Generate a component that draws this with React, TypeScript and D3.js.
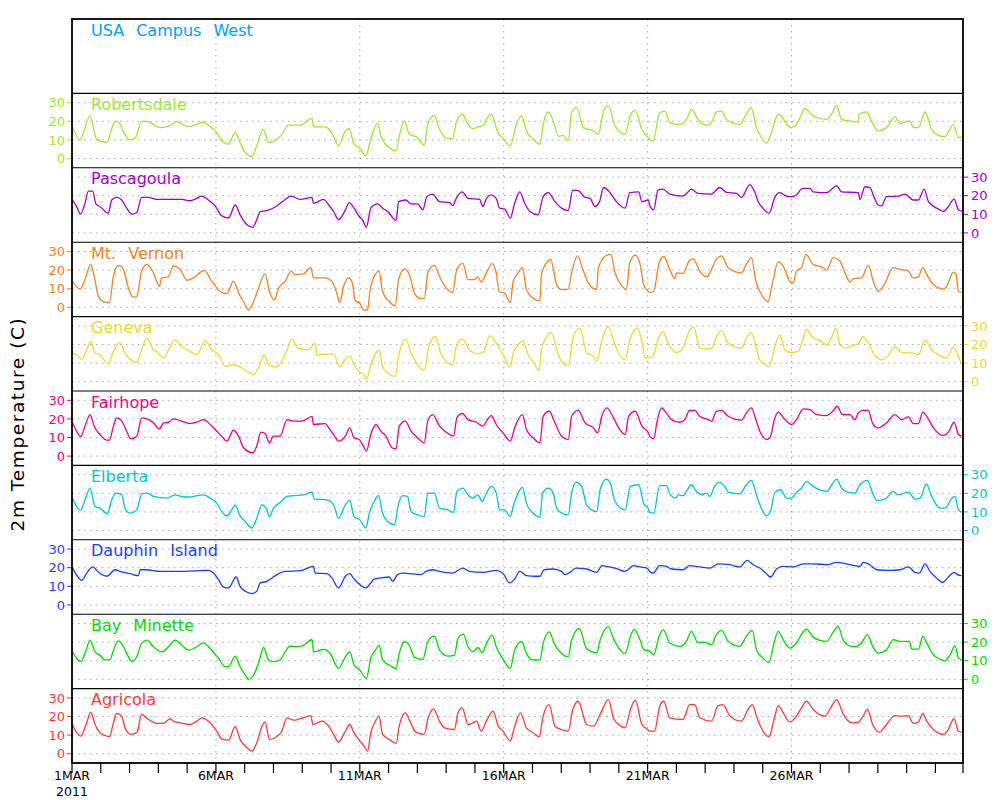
import React, { useEffect, useRef } from 'react';
import * as d3 from 'd3';

type Pt = [number, number]; // [days since 1 MAR 2011 00:00, temperature C]

const robertsdale: Pt[] = [
  [0.02,17],[0.28,10],[0.63,22.9],[0.86,10.4],[1.2,8.6],[1.5,20],[1.62,19.5],[1.8,14],[2.0,10],[2.2,11],[2.42,20],[2.6,20],[3.06,16.6],[3.4,17.5],[3.64,20],[3.87,17.9],[4.1,17.2],[4.34,18.4],[4.57,19.6],[4.74,17.9],[5.03,14],[5.2,9.5],[5.44,7.7],[5.67,14],[5.84,8.6],[6.02,3.2],[6.25,1.1],[6.42,6.8],[6.65,15.7],[6.83,8.6],[7.12,10.4],[7.3,13],[7.52,17.9],[7.93,17.9],[8.34,21.6],[8.39,17],[8.8,17],[9.09,12],[9.26,6.8],
  [9.5,14.8],[9.63,16],[9.8,7.7],[9.98,5.9],[10.21,1.4],[10.38,10.4],[10.62,19],[10.73,12],[11.02,5.9],[11.26,4.1],[11.37,12],[11.55,20.2],[11.72,13],[12.0,11.3],[12.24,7.1],[12.36,18.4],[12.59,23.2],[12.77,15.7],[13.06,10.7],[13.23,10.7],[13.35,19.3],[13.56,23.8],[13.76,18.4],[13.93,16],[14.1,17],[14.28,17.5],[14.4,21],[14.57,23.8],[14.8,13.9],[14.98,10.7],[15.23,6.8],[15.44,18.4],[15.62,22.9],[15.79,14.8],[16.02,10.4],[16.26,7.7],[16.37,18.4],[16.55,25],[16.72,20.2],[16.9,12],[17.07,12.3],[17.24,9.5],[17.36,24.6],[17.53,27.3],[17.77,16.6],[18.12,14.8],[18.29,13],[18.47,25.5],[18.64,28.6],[18.87,17.5],[19.22,13],[19.4,23.2],[19.57,25.9],[19.8,15.7],[20.0,11.5],
  [20.07,10.4],[20.19,9.5],[20.42,24.6],[20.6,25.5],[20.77,19.3],[21.0,18.4],[21.23,18.9],[21.41,22.9],[21.52,26.4],[21.75,21],[21.93,18.4],[22.1,17.9],[22.22,19.3],[22.39,25],[22.57,25.5],[22.74,21],[23.2,18.4],[23.43,23.8],[23.6,27.3],[23.78,16.6],[23.96,11.3],[24.13,8.2],[24.3,13.9],[24.54,23.8],[24.65,22.9],[24.83,18.4],[25.0,16.6],[25.17,18.4],[25.35,23.8],[25.46,26.8],[25.75,22.9],[26.22,21],[26.43,25],[26.57,28.6],[26.74,21],[27.03,20.2],[27.32,19.6],[27.35,23.8],[27.61,25],[27.78,20.2],[28.01,14.8],[28.3,16.6],[28.59,22.5],[28.77,18.9],[29.12,20.2],[29.23,16.6],[29.41,16.6],[29.64,25],[29.87,15.7],[30.16,12.1],[30.33,11.8],[30.62,18.4],[30.8,11.3],[30.95,11.8],
];

const pascagoula: Pt[] = [
  [0.02,17.7],[0.16,14.2],[0.3,10.1],[0.45,15.9],[0.57,22.5],[0.72,22.5],[0.83,15.6],[0.97,14.2],[1.26,10.6],[1.38,17.7],[1.55,19.1],[1.73,17.7],[1.9,13.3],[2.08,10.1],[2.25,11],[2.42,19.1],[2.66,19.1],[2.94,18],[3.52,18],[3.81,18],[4.1,17.3],[4.34,18.6],[4.51,19.8],[4.74,17.7],[4.97,14.5],[5.2,9.2],[5.44,8],[5.67,15],[5.84,9.7],[6.08,4.4],[6.28,3],[6.42,7.1],[6.54,11.5],[6.77,12],[7.12,14.5],[7.41,18],[7.61,19.8],[7.93,18],[8.34,19.1],[8.39,15.9],[8.74,18],[8.92,15],[9.09,11.5],[9.26,7.1],
  [9.5,12.4],[9.63,16.3],[9.8,13.3],[9.98,8.8],[10.09,7.1],[10.23,3],[10.38,13.3],[10.62,15.6],[10.79,13.3],[10.97,11.5],[11.26,6.7],[11.35,16.8],[11.6,17.7],[11.78,15.6],[12.01,15.6],[12.19,12.4],[12.33,19.5],[12.53,20.9],[12.77,16.8],[13.12,16.3],[13.23,14.7],[13.35,18.6],[13.56,22.1],[13.76,18.6],[14.16,18],[14.28,14.2],[14.4,18.6],[14.57,20.4],[14.74,18.6],[14.86,13.3],[15.03,12.8],[15.23,8],[15.38,15.9],[15.56,22.1],[15.73,15.9],[15.91,11.5],[16.2,9.7],[16.37,19.5],[16.55,21.6],[16.78,16.8],[17.01,13.3],[17.24,12],[17.4,23],[17.59,22.7],[17.83,19.1],[18.0,18.6],[18.17,14.2],[18.33,16.8],[18.47,24.4],[18.64,22.7],[18.87,17.7],[19.22,13.3],[19.38,21.6],[19.69,22.1],[19.8,16.8],[20.03,17.7],
  [20.07,15],[20.21,12.4],[20.36,23],[20.53,23.5],[20.77,20.9],[21.23,19.8],[21.41,22.1],[21.52,23.5],[21.75,21.2],[22.22,20.9],[22.51,24.4],[22.74,21.8],[23.09,21.2],[23.26,19.1],[23.55,26],[23.72,22.1],[23.84,16.8],[24.01,13.3],[24.22,10.6],[24.42,19.1],[24.59,21.6],[24.83,19.8],[25.0,19.5],[25.17,20.4],[25.38,23.9],[25.64,23.9],[25.75,22.1],[26.22,21.6],[26.57,25.3],[26.74,22.1],[27.32,21.6],[27.38,18],[27.55,24.8],[27.72,24.4],[27.86,19.5],[28.01,15],[28.13,14.5],[28.3,19.5],[28.71,19.8],[28.94,20.9],[29.23,17.7],[29.41,17.7],[29.61,23.5],[29.76,16.8],[30.16,12.4],[30.28,11.5],[30.45,14.2],[30.65,18.2],[30.8,12.4],[30.95,11.5],
];

const mtVernon: Pt[] = [
  [0.02,14],[0.28,9.8],[0.45,14.9],[0.65,23.1],[0.77,16.7],[0.92,5.8],[1.09,3.1],[1.3,2.5],[1.44,16.7],[1.61,22.5],[1.76,21.3],[1.96,10.4],[2.13,5.5],[2.25,5.8],[2.42,19.5],[2.6,23.1],[2.83,18.5],[3.04,11.3],[3.12,15.8],[3.35,16.4],[3.52,22.2],[3.76,20.4],[3.99,14.5],[4.22,15.8],[4.59,19.8],[4.86,14],[5.15,8.5],[5.38,7.3],[5.61,14],[5.82,6.7],[5.96,3.1],[6.13,-1.5],[6.31,3.1],[6.48,10.4],[6.71,18],[6.86,8.5],[7.03,4],[7.18,10.4],[7.41,14],[7.61,19.5],[7.76,17.6],[8.05,18],[8.3,21.3],[8.39,15.8],[8.8,15.8],[9.03,14],[9.2,7.6],[9.3,2.5],[9.44,11.3],[9.61,15.8],
  [9.74,13.1],[9.84,3.5],[10.0,2.2],[10.15,-1.5],[10.27,-1.5],[10.35,8.5],[10.5,16.7],[10.67,19.5],[10.79,8.5],[11.02,3.1],[11.23,0.7],[11.35,14.9],[11.55,20.7],[11.72,17.6],[11.9,7.6],[12.07,4.9],[12.24,4.5],[12.36,18.5],[12.59,22.5],[12.77,16.7],[13.0,10.4],[13.23,8],[13.37,20.4],[13.58,23.6],[13.76,14.9],[13.99,14.9],[14.1,16.4],[14.22,13.5],[14.4,18.5],[14.6,23.5],[14.74,18.5],[14.84,8.5],[15.03,7.6],[15.23,2.5],[15.33,14],[15.5,18.5],[15.65,21.3],[15.79,9.5],[16.02,4.9],[16.26,3.5],[16.31,17.6],[16.49,24],[16.63,25.8],[16.84,12.2],[17.01,9.5],[17.24,9.8],[17.36,18.5],[17.56,27.6],[17.77,19.5],[17.94,13.1],[18.23,9.5],[18.29,21.3],[18.58,28],[18.72,28.5],[18.87,18.5],[19.1,11.6],[19.26,9.5],[19.38,24],[19.57,28],[19.74,23.1],[19.86,12.2],[20.03,8.5],
  [20.07,8],[20.21,8.5],[20.4,24],[20.56,27.3],[20.77,20.4],[20.94,15.3],[21.0,18.5],[21.23,18.2],[21.44,24.9],[21.58,26.2],[21.81,19.5],[22.07,16.4],[22.16,18.5],[22.39,25.8],[22.57,27.6],[22.8,21.3],[23.26,18.5],[23.43,23.1],[23.61,26.7],[23.76,14],[23.9,8.5],[24.19,3.1],[24.34,13.1],[24.54,24.4],[24.71,22.2],[24.94,14],[25.06,13.1],[25.17,19.5],[25.35,21.3],[25.5,28.5],[25.75,23.1],[26.1,21.3],[26.22,20],[26.45,26.7],[26.68,24.9],[26.86,18.5],[27.03,13.5],[27.14,15.3],[27.43,15.8],[27.67,22.5],[27.84,14],[28.01,8.5],[28.19,11.3],[28.54,21.3],[28.77,20.4],[29.06,19.5],[29.23,15.8],[29.41,16.4],[29.56,21.3],[29.7,17.6],[29.93,12.2],[30.28,9.8],[30.39,11.3],[30.62,18.9],[30.72,17.6],[30.8,8.5],[30.91,8],
];

const geneva: Pt[] = [
  [0.02,15.4],[0.16,14.5],[0.34,12.1],[0.51,17.1],[0.65,21.6],[0.8,15.4],[0.97,14.5],[1.26,9.6],[1.44,16.3],[1.67,21.1],[1.84,15.4],[2.02,12.1],[2.25,10.4],[2.42,17.1],[2.6,23.4],[2.83,17.1],[2.94,16.3],[3.18,12.7],[3.41,18.9],[3.58,22.5],[3.81,18.9],[4.1,16.3],[4.34,14.5],[4.63,22.1],[4.86,17.1],[5.09,14.5],[5.32,8.2],[5.61,9.1],[5.84,7.9],[6.08,5.5],[6.31,3.8],[6.48,7.3],[6.68,14.5],[6.83,9.1],[7.06,7.9],[7.29,10.9],[7.47,17.1],[7.64,22.9],[7.87,18],[8.22,17.1],[8.45,20.7],[8.51,14.5],[9.09,15],[9.3,7.9],[9.5,12.1],[9.65,13.9],
  [9.8,9.1],[9.98,5.5],[10.15,3.8],[10.23,1.4],[10.38,9.1],[10.56,15.4],[10.67,17.1],[10.79,8.2],[10.97,4.6],[11.23,2.9],[11.37,15.4],[11.6,22.9],[11.78,15.4],[12.01,9.1],[12.24,6.1],[12.4,18.9],[12.63,24.3],[12.83,14.5],[13.23,9.1],[13.35,18.9],[13.56,22.9],[13.81,17.1],[14.05,15],[14.28,15.7],[14.51,24.6],[14.74,20.7],[14.98,14.5],[15.23,7.9],[15.33,15.4],[15.5,19.8],[15.67,22.1],[15.85,14.5],[16.02,10.9],[16.23,6.1],[16.31,17.1],[16.49,24.3],[16.66,26.4],[16.84,17.1],[17.01,10.9],[17.24,8.6],[17.42,24.3],[17.65,28.8],[17.88,15.4],[18.12,13.6],[18.23,10.9],[18.41,22.5],[18.64,29.6],[18.81,22.5],[18.99,15.4],[19.22,11.8],[19.4,23.4],[19.65,28.8],[19.8,21.6],[19.92,12.7],[20.03,13.2],
  [20.07,12.7],[20.21,14.5],[20.36,22.5],[20.53,27],[20.71,20.7],[21.0,15.7],[21.23,18],[21.44,27],[21.6,29.3],[21.81,18],[22.04,17.5],[22.22,18],[22.39,24.3],[22.57,27.5],[22.8,20.7],[23.26,18],[23.43,23.4],[23.61,26.4],[23.76,18.9],[23.9,11.8],[24.07,9.6],[24.22,7.9],[24.39,17.1],[24.59,25.2],[24.77,17.1],[25.0,15.7],[25.23,16.3],[25.41,23.4],[25.52,28.2],[25.7,24.3],[25.99,22.1],[26.22,19.8],[26.4,24.3],[26.55,28.8],[26.68,19.8],[26.91,18],[27.09,19.3],[27.32,20.4],[27.47,24.3],[27.67,20.7],[27.84,15.4],[28.13,11.8],[28.36,13.9],[28.59,18.9],[28.83,15.7],[29.23,15.4],[29.41,14.5],[29.64,22.5],[29.87,17.1],[30.16,13.9],[30.39,12.7],[30.62,18.6],[30.8,13.6],[30.91,9.6],
];

const fairhope: Pt[] = [
  [0.02,17.9],[0.16,13.4],[0.3,10.4],[0.45,16.1],[0.63,22.3],[0.77,16.1],[0.97,11.6],[1.21,8.6],[1.3,8.6],[1.44,16.1],[1.55,20.5],[1.73,18.8],[1.9,13.4],[2.04,9.3],[2.25,10.7],[2.42,20.5],[2.6,20],[2.83,17.9],[3.04,14.6],[3.18,17.9],[3.35,18.2],[3.52,20],[3.81,18.8],[4.1,17.5],[4.34,18.2],[4.57,19.6],[4.8,17],[5.03,13.4],[5.2,10.7],[5.38,8],[5.61,13.9],[5.79,10.7],[5.96,4.5],[6.28,1.8],[6.42,5.4],[6.56,12.9],[6.71,12.1],[6.86,7.1],[7.0,10.7],[7.23,10.7],[7.47,19.6],[7.7,18.8],[7.99,18.8],[8.34,21.4],[8.39,17],[8.8,17.5],[8.92,15.2],[9.09,11.6],[9.26,8],[9.5,10.7],[9.65,15.2],
  [9.8,9.8],[9.98,8.9],[10.12,5.4],[10.23,2.7],[10.38,11.6],[10.56,17],[10.73,13.4],[10.91,10.7],[11.12,4.5],[11.26,3.9],[11.37,16.1],[11.58,18.8],[11.78,13.4],[11.95,10.7],[12.07,8.9],[12.24,7.1],[12.36,18.8],[12.53,22.3],[12.77,16.1],[13.0,12.9],[13.26,10.7],[13.37,20.5],[13.56,22.9],[13.76,19.6],[14.05,18.2],[14.28,16.1],[14.4,18.8],[14.57,21.8],[14.74,17],[14.98,12.5],[15.23,8],[15.38,15.2],[15.65,22.3],[15.79,14.3],[16.02,9.8],[16.26,7.1],[16.37,21.4],[16.58,24.1],[16.78,17.9],[17.01,10.7],[17.24,8.9],[17.36,21.4],[17.59,24.6],[17.83,17.9],[18.12,15.2],[18.26,12.5],[18.41,21.4],[18.58,25.9],[18.79,21.4],[18.99,15.2],[19.22,11.6],[19.34,21.4],[19.57,24.1],[19.8,16.1],[20.03,12.5],
  [20.07,10.7],[20.21,9.3],[20.33,18.8],[20.48,25.9],[20.65,23.2],[20.83,19.6],[21.12,18.2],[21.29,19.6],[21.46,24.6],[21.64,24.6],[21.81,21.4],[22.1,19.6],[22.22,18.8],[22.39,24.1],[22.57,24.6],[22.8,21.4],[23.26,19.3],[23.43,23.2],[23.61,25.9],[23.76,19.6],[23.9,13.4],[24.13,8.9],[24.25,9.8],[24.42,20.5],[24.54,23.6],[24.77,19.6],[25.0,17],[25.17,19.6],[25.41,25.4],[25.64,25],[25.87,22.3],[26.22,21.8],[26.43,24.1],[26.59,26.8],[26.77,22.3],[27.03,22.3],[27.2,19.6],[27.32,23.2],[27.49,24.6],[27.67,24.6],[27.81,17.9],[28.01,15.2],[28.3,17.9],[28.59,22.3],[28.83,19.6],[29.06,21.1],[29.23,17.5],[29.41,17.5],[29.56,23.6],[29.7,21.4],[29.93,15.2],[30.28,11.1],[30.45,12.9],[30.65,18.2],[30.8,11.6],[30.91,10.7],
];

const elberta: Pt[] = [
  [0.02,17.4],[0.16,12.9],[0.3,10.8],[0.45,16.5],[0.63,22.8],[0.8,12.9],[0.97,12],[1.23,9],[1.38,16.5],[1.53,20.1],[1.73,19.2],[1.84,12],[2.02,9.3],[2.25,11.1],[2.42,19.7],[2.6,20.1],[2.83,18.3],[3.29,17.4],[3.58,19.2],[3.87,18],[4.1,18],[4.34,18.7],[4.57,19.2],[4.8,17.4],[5.03,14.7],[5.2,10.2],[5.38,7.9],[5.55,11.1],[5.67,13.8],[5.82,8.4],[6.02,4.8],[6.25,1.3],[6.42,6.6],[6.6,13.8],[6.77,11.1],[6.86,7.2],[7.0,12],[7.23,15.1],[7.47,18.3],[7.7,18.7],[8.05,19.2],[8.34,20.6],[8.42,16.9],[8.86,16.5],[9.09,13.8],[9.26,6.6],[9.5,13.8],[9.65,16.2],
  [9.8,7.5],[10.0,5.7],[10.21,1.3],[10.33,9.3],[10.5,15.6],[10.65,18.7],[10.79,9.3],[10.97,4.8],[11.2,3.1],[11.35,14.7],[11.49,18.7],[11.66,18.3],[11.78,10.2],[12.01,8.4],[12.24,7.5],[12.36,20.1],[12.59,20.1],[12.77,12],[13.06,11.1],[13.26,9.7],[13.37,21],[13.58,22.8],[13.76,19.2],[13.93,17.4],[14.1,19.2],[14.26,15.6],[14.4,20.1],[14.57,23.7],[14.74,20.1],[14.86,11.1],[15.03,11.1],[15.23,7.5],[15.33,12.9],[15.5,20.1],[15.65,23.2],[15.79,14.7],[16.02,9.3],[16.26,7.2],[16.35,20.1],[16.55,22.8],[16.72,20.1],[16.84,12],[17.07,9],[17.24,8.4],[17.36,20.1],[17.51,25.9],[17.71,23.7],[17.88,13.8],[18.23,10.2],[18.35,21.9],[18.56,27.6],[18.7,25.5],[18.87,15.6],[19.22,11.1],[19.4,23.7],[19.69,24.6],[19.86,14.7],[20.03,11.5],
  [20.07,9.7],[20.21,9.3],[20.42,24.1],[20.65,24.1],[20.79,19.2],[20.98,17.4],[21.06,19.2],[21.23,18.7],[21.52,24.6],[21.7,21],[21.87,19.2],[22.04,20.1],[22.16,18.3],[22.33,23.7],[22.48,25.9],[22.68,23.7],[22.8,20.6],[23.2,19.7],[23.43,24.6],[23.61,26.9],[23.78,19.2],[23.9,13.8],[24.01,10.2],[24.13,7.9],[24.27,10.2],[24.42,20.5],[24.62,21.9],[24.83,17.4],[25.0,17.4],[25.17,20.5],[25.35,22.8],[25.52,26.4],[25.75,23.7],[26.22,21],[26.4,24.6],[26.57,27.6],[26.74,22.8],[26.97,20.5],[27.2,20.1],[27.38,24.6],[27.64,26.9],[27.82,20.1],[27.96,16.2],[28.25,16.9],[28.54,21],[28.71,19.2],[29.06,20.6],[29.29,16.9],[29.47,17.4],[29.68,25],[29.87,18.3],[30.16,12],[30.33,12],[30.57,17.4],[30.68,18.3],[30.8,11.1],[30.91,9.9],
];

const dauphinIsland: Pt[] = [
  [0.02,19.8],[0.19,15.4],[0.34,13.2],[0.51,17.1],[0.72,20.4],[0.92,17.5],[1.21,15.4],[1.5,18.9],[1.67,18],[2.02,16.8],[2.31,15.7],[2.37,18.9],[2.6,18.9],[3.06,18],[3.76,18],[4.45,18.4],[4.74,18.6],[4.92,17.1],[5.09,13.6],[5.26,9.6],[5.44,9.1],[5.7,15],[5.84,10],[6.02,7.3],[6.25,6.1],[6.42,7.3],[6.54,11.8],[6.77,12.7],[7.12,16.3],[7.41,18],[7.93,18.4],[8.39,20.7],[8.45,17.1],[8.86,16.8],[9.03,14.5],[9.26,9.1],[9.5,15.4],[9.65,16.8],
  [9.8,13.9],[10.0,10.9],[10.21,9.1],[10.38,11.8],[10.5,13.9],[10.73,14.5],[11.02,15],[11.14,12.7],[11.31,16.3],[11.49,17.1],[12.13,16.3],[12.3,18],[12.53,18.9],[12.77,18],[13.23,17.1],[13.58,19.8],[13.81,18],[14.28,17.5],[14.74,18.6],[14.98,16.8],[15.21,11.8],[15.38,13.9],[15.56,18],[15.79,15.7],[16.08,15.4],[16.26,15.4],[16.4,18.9],[16.72,19.3],[17.01,18],[17.13,16.3],[17.3,17.5],[17.51,19.8],[17.88,19.3],[18.23,17.5],[18.41,21.1],[18.58,20.7],[18.87,19.8],[19.22,18],[19.51,21.1],[19.74,20.4],[19.98,19.8],
  [20.07,18],[20.19,17.1],[20.42,21.1],[20.65,20.7],[20.83,19.3],[21.23,18.9],[21.46,21.1],[21.81,20.4],[22.16,19.8],[22.45,22.1],[22.86,21.6],[23.2,20.4],[23.46,23.9],[23.67,21.6],[23.9,19.8],[24.11,17.1],[24.27,15],[24.48,19.3],[24.71,20.7],[25.06,20.4],[25.41,22.1],[25.75,22.1],[26.22,21.6],[26.57,22.9],[27.03,21.6],[27.38,20.7],[27.49,22.9],[27.72,21.6],[27.96,18.9],[28.42,18.6],[28.77,18.9],[29.06,20.4],[29.29,17.5],[29.44,17.1],[29.64,22.1],[29.81,18],[30.04,14.5],[30.25,12.1],[30.45,15],[30.65,17.5],[30.76,16.3],[30.91,15.7],
];

const bayMinette: Pt[] = [
  [0.02,14.8],[0.16,11.3],[0.31,9.5],[0.45,13.9],[0.63,21.1],[0.8,14.8],[0.97,13],[1.15,10.4],[1.32,10.4],[1.44,15.7],[1.61,20.7],[1.79,17.5],[1.96,12.1],[2.08,9.5],[2.25,12.1],[2.42,19.3],[2.6,21.1],[2.83,17.5],[3.12,14.8],[3.35,17.5],[3.58,21.1],[3.81,18.4],[4.05,15.7],[4.34,17.5],[4.57,19.6],[4.8,16.6],[5.09,11.3],[5.32,6.8],[5.44,6.8],[5.67,12.5],[5.84,6.8],[6.02,2.3],[6.13,0],[6.31,2.3],[6.48,8.6],[6.66,17.1],[6.83,10.4],[7.0,9.5],[7.23,10.4],[7.41,14.8],[7.58,17.9],[7.81,17.5],[8.05,18.4],[8.34,21.4],[8.39,14.8],[8.74,16.1],[8.97,13.9],[9.26,5.9],[9.5,12.1],[9.65,14.8],
  [9.8,7.7],[10.0,5],[10.23,0.5],[10.38,11.3],[10.56,16.1],[10.67,18.4],[10.79,10.4],[11.02,7.7],[11.26,5.9],[11.37,13.9],[11.55,20.2],[11.72,18.4],[11.9,11.8],[12.19,10.7],[12.36,20.2],[12.59,23.2],[12.77,15.7],[13.06,12.5],[13.29,13],[13.41,22],[13.6,24.3],[13.76,17.5],[13.93,14.8],[14.1,17.1],[14.26,14.3],[14.4,19.3],[14.6,23.8],[14.74,17.5],[14.98,10.7],[15.23,5.9],[15.38,15.7],[15.62,20.2],[15.79,13.9],[15.97,10.4],[16.26,10.4],[16.37,19.3],[16.58,25.5],[16.78,18.4],[17.01,13.9],[17.24,12.1],[17.36,21.1],[17.63,27.3],[17.88,16.6],[18.23,14.3],[18.35,21.1],[18.64,28.2],[18.81,22],[19.05,15.7],[19.22,13.9],[19.4,22.9],[19.53,26.8],[19.74,21.1],[19.86,16.1],
  [20.07,15],[20.21,13.2],[20.4,23.1],[20.54,26.7],[20.77,19.5],[21.12,17.7],[21.35,20.4],[21.52,25.8],[21.75,19.8],[21.99,19.8],[22.22,18.6],[22.39,24],[22.57,26.3],[22.8,20.4],[23.2,17.7],[23.43,23.1],[23.64,26.3],[23.78,15.9],[24.01,11.4],[24.22,9],[24.39,19.5],[24.54,25.8],[24.71,21.3],[24.94,16.8],[25.17,19.5],[25.38,24.9],[25.52,27],[25.75,22.7],[26.22,20.4],[26.43,24.9],[26.62,28.5],[26.8,20.9],[27.09,17.7],[27.26,17.7],[27.43,19.5],[27.64,24],[27.82,17.7],[28.01,14.1],[28.3,15.9],[28.54,21.3],[28.77,20.4],[29.1,20.4],[29.18,16.2],[29.41,16.2],[29.56,23.1],[29.7,19.5],[29.93,13.2],[30.16,10.8],[30.33,9.9],[30.51,13.2],[30.68,18],[30.8,11.4],[30.91,10.5],
];

const agricola: Pt[] = [
  [0.02,15.7],[0.16,11.3],[0.31,9.5],[0.49,15.7],[0.65,22.3],[0.8,15.7],[0.97,11.3],[1.15,9.8],[1.3,9.1],[1.44,16.6],[1.55,21.6],[1.73,20.2],[1.84,13.9],[2.04,10.4],[2.25,11.3],[2.42,21.1],[2.66,18.4],[2.94,16.3],[3.18,16.3],[3.41,18.8],[3.52,17.5],[3.76,16.6],[4.1,15.7],[4.34,17.5],[4.51,19.3],[4.74,17.5],[5.03,12.1],[5.2,8],[5.44,7.3],[5.67,14.5],[5.84,7.7],[6.08,3.2],[6.25,1.4],[6.42,5.9],[6.6,14.8],[6.71,17],[6.86,7.7],[7.06,8.6],[7.29,12.1],[7.47,19.3],[7.7,18],[7.93,18.8],[8.3,20.5],[8.37,15.7],[8.68,17.5],[8.92,14.8],[9.09,10.4],[9.26,6.3],[9.5,12.1],[9.65,15.7],
  [9.8,11.3],[10.0,6.8],[10.15,4.1],[10.27,1.4],[10.38,11.3],[10.53,17],[10.67,20.2],[10.79,10.4],[11.02,7.7],[11.26,5.5],[11.37,14.8],[11.58,22],[11.74,17.5],[11.95,11.6],[12.24,10.4],[12.36,18.4],[12.56,24.1],[12.77,17.5],[12.94,13.9],[13.29,13],[13.41,22],[13.56,24.6],[13.76,15.7],[13.93,16.6],[14.05,17.5],[14.22,12.1],[14.4,17.5],[14.63,22.9],[14.81,14.8],[14.98,12.1],[15.23,6.8],[15.38,14.8],[15.58,22],[15.79,13.9],[16.02,11.3],[16.23,9.1],[16.37,20.2],[16.58,26.4],[16.78,14.8],[17.01,13],[17.24,12.1],[17.4,23.8],[17.59,28.2],[17.88,15.7],[18.12,14.8],[18.35,21.1],[18.64,29.1],[18.81,19.3],[18.99,15.7],[19.22,13.9],[19.4,23.8],[19.57,28.8],[19.8,15.7],[20.0,13],
  [20.07,12.1],[20.24,12.1],[20.42,25.5],[20.56,28.2],[20.77,19.3],[21.23,18.4],[21.46,26.4],[21.64,26.4],[21.81,19.3],[22.22,17.5],[22.45,25.9],[22.62,26.4],[22.86,20.2],[23.26,17.5],[23.49,23.8],[23.64,26.4],[23.8,19.3],[24.01,12.1],[24.22,9.1],[24.39,18.4],[24.54,25.9],[24.71,22],[24.94,17],[25.17,20.2],[25.38,25.5],[25.52,28.2],[25.75,23.8],[26.16,20.2],[26.39,25.5],[26.57,29.1],[26.8,21.1],[27.09,16.6],[27.32,17],[27.49,20.2],[27.64,23.8],[27.82,15.7],[28.06,11.6],[28.3,15.7],[28.59,20.5],[28.83,20.2],[29.06,20.5],[29.23,16.3],[29.41,17],[29.56,21.6],[29.7,17.5],[29.93,13],[30.28,10.4],[30.39,11.6],[30.65,18.8],[30.8,12.1],[30.91,11.6],
];

// top to bottom; the first station has no data in this period
const stationNames = ['USA Campus West', 'Robertsdale', 'Pascagoula', 'Mt. Vernon', 'Geneva', 'Fairhope', 'Elberta', 'Dauphin Island', 'Bay Minette', 'Agricola'];
const stationSeries: (Pt[] | null)[] = [null, robertsdale, pascagoula, mtVernon, geneva, fairhope, elberta, dauphinIsland, bayMinette, agricola];
const stationColors = ['rgb(0,160,255)', 'rgb(160,230,50)', 'rgb(160,0,200)', 'rgb(240,130,40)', 'rgb(230,220,50)', 'rgb(240,0,130)', 'rgb(0,200,200)', 'rgb(30,60,255)', 'rgb(0,220,0)', 'rgb(250,60,60)'];

const tempTicks = [0, 10, 20, 30];
const dayTicks = d3.range(0, 31);
const labelDays = [0, 5, 10, 15, 20, 25];
const labelText = ['1MAR', '6MAR', '11MAR', '16MAR', '21MAR', '26MAR'];
const yearLabel = '2011';
const yTitle = '2m Temperature (C)';

const App: React.FC = () => {
  const svgRef = useRef<SVGSVGElement>(null);

  useEffect(() => {
    const svg = d3.select(svgRef.current);
    svg.selectAll('*').remove();

    const left = 72, right = 963, top = 19, bottom = 763;
    const panelH = (bottom - top) / stationNames.length;
    const font = '"DejaVu Sans", sans-serif';
    const gridCol = '#aaaaaa';

    const x = d3.scaleLinear().domain([0, 30.958]).range([left, right]);

    svg.append('rect').attr('width', 1000).attr('height', 800).attr('fill', '#fff');

    // vertical dotted grid every 5 days
    svg.selectAll('.vgrid')
      .data(labelDays.filter(d => d > 0))
      .enter().append('line')
      .attr('x1', d => x(d)).attr('x2', d => x(d))
      .attr('y1', top).attr('y2', bottom)
      .attr('stroke', gridCol).attr('stroke-width', 1)
      .attr('stroke-dasharray', '1.5,4.5');

    stationNames.forEach((name, i) => {
      const pTop = top + i * panelH;
      const y = d3.scaleLinear().domain([-5, 35]).range([pTop + panelH, pTop]);
      const color = stationColors[i];
      const series = stationSeries[i];
      const g = svg.append('g');

      if (series) {
        g.selectAll('.hgrid')
          .data(tempTicks)
          .enter().append('line')
          .attr('x1', left).attr('x2', right)
          .attr('y1', d => y(d)).attr('y2', d => y(d))
          .attr('stroke', gridCol).attr('stroke-width', 1)
          .attr('stroke-dasharray', '1.5,4.5');

        const line = d3.line<Pt>()
          .x(p => x(p[0]))
          .y(p => y(p[1]))
          .curve(d3.curveMonotoneX);
        g.append('path')
          .datum(series)
          .attr('d', line)
          .attr('fill', 'none')
          .attr('stroke', color)
          .attr('stroke-width', 1.3)
          .attr('stroke-linejoin', 'round');

        // axes alternate between left and right
        const onLeft = i % 2 === 1;
        const axis = g.append('g');
        axis.selectAll('line')
          .data(tempTicks)
          .enter().append('line')
          .attr('x1', onLeft ? left - 5 : right)
          .attr('x2', onLeft ? left : right + 5)
          .attr('y1', d => y(d)).attr('y2', d => y(d))
          .attr('stroke', color).attr('stroke-width', 1);
        axis.selectAll('text')
          .data(tempTicks)
          .enter().append('text')
          .attr('x', onLeft ? left - 7 : right + 8)
          .attr('y', d => y(d))
          .attr('dy', '0.36em')
          .attr('text-anchor', onLeft ? 'end' : 'start')
          .attr('font-family', font)
          .attr('font-size', 13)
          .attr('fill', color)
          .text(d => d);
      }

      g.append('text')
        .attr('x', 91)
        .attr('y', pTop + 16.5)
        .attr('font-family', font)
        .attr('font-size', 16)
        .attr('word-spacing', 7)
        .attr('fill', color)
        .text(name);

      if (i > 0) {
        svg.append('line')
          .attr('x1', left).attr('x2', right)
          .attr('y1', pTop).attr('y2', pTop)
          .attr('stroke', '#000').attr('stroke-width', 1.1);
      }
    });

    // frame
    svg.append('rect')
      .attr('x', left).attr('y', top)
      .attr('width', right - left).attr('height', bottom - top)
      .attr('fill', 'none').attr('stroke', '#000').attr('stroke-width', 1.8);

    // x axis ticks and labels
    svg.selectAll('.xtick')
      .data([...dayTicks, 30.958])
      .enter().append('line')
      .attr('x1', d => x(d)).attr('x2', d => x(d))
      .attr('y1', bottom).attr('y2', bottom + 10)
      .attr('stroke', '#000').attr('stroke-width', 1.2);

    svg.selectAll('.xlabel')
      .data(labelDays)
      .enter().append('text')
      .attr('x', d => x(d))
      .attr('y', 780)
      .attr('text-anchor', 'middle')
      .attr('font-family', font)
      .attr('font-size', 12.5)
      .attr('fill', '#000')
      .text((d, k) => labelText[k]);

    svg.append('text')
      .attr('x', x(0)).attr('y', 796)
      .attr('text-anchor', 'middle')
      .attr('font-family', font)
      .attr('font-size', 12.5)
      .text(yearLabel);

    svg.append('text')
      .attr('transform', 'translate(24,424) rotate(-90)')
      .attr('text-anchor', 'middle')
      .attr('font-family', font)
      .attr('font-size', 18.5)
      .attr('letter-spacing', 1.6)
      .attr('fill', '#000')
      .text(yTitle);
  }, []);

  return (
    <div style={{ position: 'absolute', left: 0, top: 0 }}>
      <svg ref={svgRef} width={1000} height={800}></svg>
    </div>
  );
};

export default App;
